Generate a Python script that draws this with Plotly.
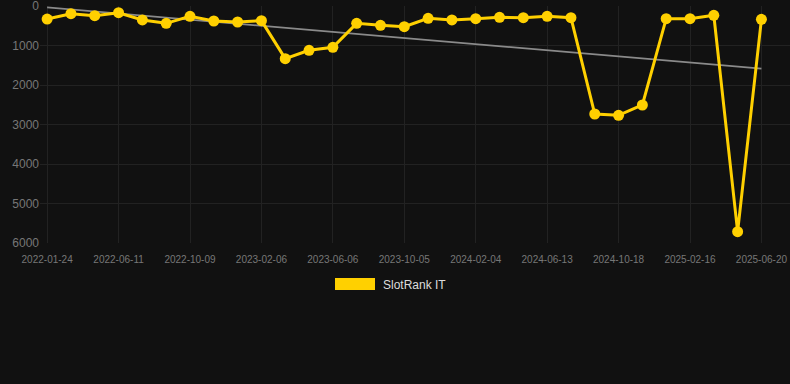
import numpy as np
import plotly.graph_objects as go

dates = [
    "2022-01-24", "2022-03-10", "2022-04-26", "2022-06-11", "2022-07-21", "2022-08-30",
    "2022-10-09", "2022-11-18", "2022-12-28", "2023-02-06", "2023-03-18", "2023-04-27",
    "2023-06-06", "2023-07-16", "2023-08-26", "2023-10-05", "2023-11-14", "2023-12-25",
    "2024-02-04", "2024-03-17", "2024-04-30", "2024-06-13", "2024-07-25", "2024-09-05",
    "2024-10-18", "2024-11-27", "2025-01-07", "2025-02-16", "2025-03-30", "2025-05-10",
    "2025-06-20",
]
ranks = [
    330, 195, 245, 170, 354, 439, 262, 380, 405, 371,
    1333, 1122, 1046, 439, 489, 523, 312, 354, 321, 287,
    295, 262, 295, 2734, 2768, 2506, 321, 321, 236, 5714,
    338,
]
tick_labels = dates[::3]
y_ticks = [0, 1000, 2000, 3000, 4000, 5000, 6000]
series_name = "SlotRank IT"

idx = np.arange(len(ranks))
slope, intercept = np.polyfit(idx, ranks, 1)
trend = [intercept, intercept + slope * idx[-1]]

W, H = 790, 384
ml, mr, mt, mb = 40, 0, 6, 141

fig = go.Figure()
fig.add_trace(go.Scatter(
    x=[dates[0], dates[-1]], y=trend, mode="lines",
    line=dict(color="#8a8a8a", width=1.8), showlegend=False, hoverinfo="skip",
    cliponaxis=False,
))
fig.add_trace(go.Scatter(
    x=dates, y=ranks, mode="lines+markers", name=series_name,
    line=dict(color="#FFD000", width=3),
    marker=dict(color="#FFD000", size=11),
    showlegend=False, cliponaxis=False,
))

# legend drawn manually (wide swatch)
def px_x(p):
    return (p - ml) / (W - ml - mr)

def px_y(p):
    return 1 - (p - mt) / (H - mt - mb)

fig.add_shape(type="rect", xref="paper", yref="paper",
              x0=px_x(335), x1=px_x(375), y0=px_y(290), y1=px_y(278),
              fillcolor="#FFD000", line=dict(width=0))
fig.add_annotation(xref="paper", yref="paper", x=px_x(381), y=px_y(285),
                   text=series_name, showarrow=False, xanchor="left", yanchor="middle",
                   font=dict(color="#dddddd", size=12, family="Liberation Sans, Arial"))

fig.update_layout(
    width=W, height=H,
    margin=dict(l=ml, r=mr, t=mt, b=mb),
    paper_bgcolor="#111111", plot_bgcolor="#111111",
    font=dict(family="Liberation Sans, Arial", color="#777777"),
    xaxis=dict(
        type="category", categoryorder="array", categoryarray=dates,
        range=[-0.3, 31.2],
        tickmode="array", tickvals=tick_labels, ticktext=tick_labels,
        tickfont=dict(size=10, color="#777777"),
        ticklabelstandoff=9, ticklabeloverflow="allow",
        showgrid=True, gridcolor="#222222", gridwidth=1,
        zeroline=False, showline=False, ticks="",
    ),
    yaxis=dict(
        range=[6000, 0],
        tickmode="array", tickvals=y_ticks,
        tickfont=dict(size=12, color="#777777"),
        ticklabeloverflow="allow",
        showgrid=True, gridcolor="#222222", gridwidth=1,
        zeroline=False, showline=False, ticks="",
    ),
)

fig.write_html(
    "out.html",
    config={"displayModeBar": False},
    post_script="document.body.style.margin='0';document.body.style.background='#111111';",
)
